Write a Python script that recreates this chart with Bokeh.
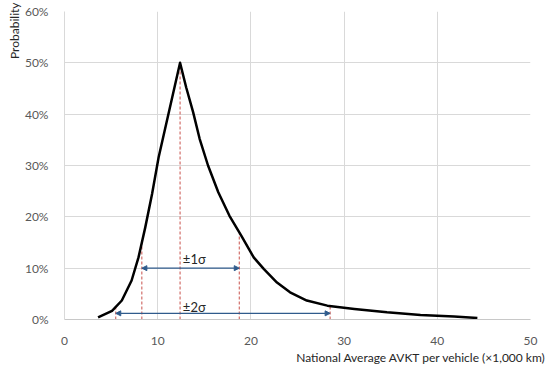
from bokeh.plotting import figure
from bokeh.models import (FixedTicker, NumeralTickFormatter, Range1d, Title, Arrow,
                          NormalHead, Label)
from bokeh.embed import file_html
from bokeh.resources import INLINE

# ---- data ----
avkt = [3.6, 5.1, 6.15, 7.2, 7.94, 8.66, 9.4, 10.1, 12.4, 13.06, 13.8, 14.5, 15.4,
        16.5, 17.7, 18.98, 20.3, 21.4, 22.8, 24.2, 26.0, 28.2, 31.1, 34.6, 38.2, 41.8, 44.3]
prob = [0.004, 0.017, 0.037, 0.076, 0.121, 0.179, 0.245, 0.316, 0.500, 0.452, 0.404,
        0.352, 0.300, 0.248, 0.202, 0.163, 0.121, 0.098, 0.072, 0.053, 0.037, 0.027,
        0.0205, 0.014, 0.009, 0.0058, 0.003]

mean_x = 12.4
sigma1 = [8.3, 18.75]
sigma2 = [5.5, 28.5]
drop_x = [sigma2[0], sigma1[0], mean_x, sigma1[1], sigma2[1]]
drop_y = [0.025, 0.150, 0.500, 0.167, 0.026]

x_ticks = [0, 10, 20, 30, 40, 50]
y_ticks = [0.0, 0.1, 0.2, 0.3, 0.4, 0.5, 0.6]

FONT = "Lato"
GREY = "#595959"

p = figure(width=550, height=366, output_backend="svg", toolbar_location=None,
           x_range=Range1d(0, 50), y_range=Range1d(0, 0.6),
           min_border_left=64, min_border_right=20, min_border_top=11, min_border_bottom=47)
p.outline_line_color = None
p.background_fill_color = "white"
p.border_fill_color = "white"

# axes
p.xaxis.ticker = FixedTicker(ticks=x_ticks)
p.yaxis.ticker = FixedTicker(ticks=y_ticks)
p.yaxis.formatter = NumeralTickFormatter(format="0%")
for ax in (p.xaxis[0], p.yaxis[0]):
    ax.major_tick_line_color = None
    ax.minor_tick_line_color = None
    ax.major_label_text_font = FONT
    ax.major_label_text_font_size = "12px"
    ax.major_label_text_color = GREY
p.xaxis.major_label_standoff = 11
p.yaxis.major_label_standoff = 10
p.xaxis.axis_line_color = "#c8c8c8"
p.yaxis.axis_line_color = "#d9d9d9"

p.xgrid.ticker = FixedTicker(ticks=x_ticks)
p.ygrid.ticker = FixedTicker(ticks=y_ticks)
p.grid.grid_line_color = "#d9d9d9"
p.grid.grid_line_width = 1

# axis titles (Excel style: aligned to the ends)
p.add_layout(Title(text="Probability", align="right", offset=-9, standoff=0,
                   text_font=FONT, text_font_size="12px", text_font_style="normal",
                   text_color="#262626"), "left")
p.add_layout(Title(text="National Average AVKT per vehicle (×1,000 km)", align="right",
                   offset=-16, standoff=0, text_font=FONT, text_font_size="12px",
                   text_font_style="normal", text_color="#262626"), "below")

# red dashed drop lines
p.segment(x0=drop_x, y0=[0] * len(drop_x), x1=drop_x, y1=drop_y,
          line_color="#c8504b", line_dash="3 2", line_width=1)

# distribution curve
p.line(avkt, prob, line_color="black", line_width=2.5, line_join="round")

# sigma arrows
ARROW = "#2f5b8c"
for (a, b), yy in ((sigma1, 0.10), (sigma2, 0.012)):
    p.add_layout(Arrow(x_start=a, y_start=yy, x_end=b, y_end=yy,
                       line_color=ARROW, line_width=1.2,
                       start=NormalHead(size=5, line_color=ARROW, fill_color=ARROW, line_width=1),
                       end=NormalHead(size=5, line_color=ARROW, fill_color=ARROW, line_width=1)))

for txt, yy in (("±1σ", 0.118), ("±2σ", 0.024)):
    p.add_layout(Label(x=12.7, y=yy, text=txt, text_font=FONT, text_font_size="13px",
                       text_color="#262626", text_baseline="middle", text_align="left"))

open("out.html", "w").write(file_html(p, INLINE))
